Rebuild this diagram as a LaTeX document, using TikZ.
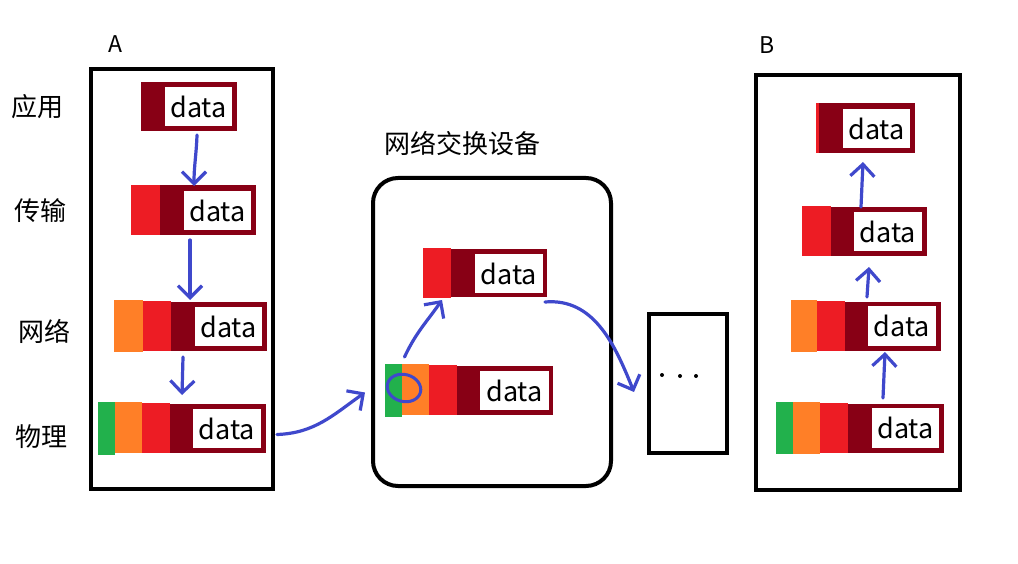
\documentclass[tikz,border=0pt]{standalone}
\usepackage{fontspec}
\setmainfont{Noto Sans CJK SC}
\usetikzlibrary{arrows.meta}
\definecolor{dkred}{RGB}{136,0,21}
\definecolor{pred}{RGB}{237,28,36}
\definecolor{porange}{RGB}{255,127,39}
\definecolor{pgreen}{RGB}{34,177,76}
\definecolor{pblue}{RGB}{63,72,204}
\tikzset{
  blk/.style={rectangle, inner sep=0pt, outer sep=0pt, draw=none},
  body/.style={blk, fill=dkred, minimum width=96pt},
  databox/.style={blk, fill=white, minimum height=39pt, font=\fontsize{27}{30}\selectfont, text=black},
  hred/.style={blk, fill=pred},
  horange/.style={blk, fill=porange},
  hgreen/.style={blk, fill=pgreen},
  frame/.style={rectangle, draw=black, line width=4pt, inner sep=0pt, fill=none},
  lab/.style={inner sep=0pt, font=\fontsize{26}{30}\selectfont},
  hostlab/.style={inner sep=0pt, font=\fontsize{23}{26}\selectfont},
  hand/.style={draw=pblue, line width=3.2pt, line cap=round, line join=round,
    -{Straight Barb[length=12pt,width=24pt,line width=3.2pt]}},
  dotmark/.style={circle, fill=black, inner sep=0pt, minimum size=4pt}
}
\begin{document}
\begin{tikzpicture}[x=1pt,y=-1pt]
\useasboundingbox[fill=white] (0,0) rectangle (1018,564);

% ---------- frames ----------
\node[frame, minimum width=182pt, minimum height=419.5pt] (boxA) at (181.5,279.25) {};
\node[frame, rounded corners=25pt, minimum width=238pt, minimum height=308pt] (sw) at (492,332) {};
\node[frame, minimum width=78pt, minimum height=139pt] (dotsbox) at (688,383.5) {};
\node[frame, minimum width=204pt, minimum height=415pt] (boxB) at (858,282.5) {};

% ---------- labels ----------
\node[hostlab] (labA) at (115.5,44.5) {A};
\node[hostlab] (labB) at (767,45) {B};
\node[lab] (l1) at (37,107) {应用};
\node[lab] (l2) at (40,211) {传输};
\node[lab] (l3) at (45,331) {网络};
\node[lab] (l4) at (42,437) {物理};
\node[lab] (swlab) at (462,143) {网络交换设备};

\node[dotmark] (d1) at (662,375) {};
\node[dotmark] (d2) at (680,376) {};
\node[dotmark] (d3) at (696,376) {};

% ---------- host A packets ----------
\node[body, minimum height=49pt] (a1) at (189,106.5) {};
\node[databox, minimum width=67pt] (a1d) at (198.5,106.5) {data};

\node[hred, minimum width=29pt, minimum height=50pt] (a2r) at (145.5,210) {};
\node[body, minimum height=50pt] (a2) at (208,210) {};
\node[databox, minimum width=67pt] (a2d) at (217.5,210.5) {data};

\node[horange, minimum width=29pt, minimum height=52pt] (a3o) at (128.5,326) {};
\node[hred, minimum width=28pt, minimum height=50pt] (a3r) at (157,326) {};
\node[body, minimum height=49pt] (a3) at (219,326.5) {};
\node[databox, minimum width=67pt] (a3d) at (228.5,326.5) {data};

\node[hgreen, minimum width=17pt, minimum height=53pt] (a4g) at (106.5,428.5) {};
\node[horange, minimum width=27pt, minimum height=51pt] (a4o) at (128.5,427.5) {};
\node[hred, minimum width=28pt, minimum height=50pt] (a4r) at (156,428) {};
\node[body, minimum height=49pt] (a4) at (218,428.5) {};
\node[databox, minimum width=68pt] (a4d) at (227,428.5) {data};

% ---------- switch packets ----------
\node[hred, minimum width=28pt, minimum height=50pt] (s1r) at (437,273) {};
\node[body, minimum height=48pt] (s1) at (499,273) {};
\node[databox, minimum width=68pt] (s1d) at (509,273.5) {data};

\node[hgreen, minimum width=17pt, minimum height=53pt] (s2g) at (393.5,390.5) {};
\node[horange, minimum width=27pt, minimum height=51pt] (s2o) at (415.5,389.5) {};
\node[hred, minimum width=28pt, minimum height=50pt] (s2r) at (443,390) {};
\node[body, minimum height=49pt] (s2) at (505,390.5) {};
\node[databox, minimum width=69pt] (s2d) at (514.5,390.5) {data};

% ---------- host B packets ----------
\node[hred, minimum width=3pt, minimum height=50pt] (b1r) at (817.5,128) {};
\node[body, minimum height=50pt] (b1) at (867,128) {};
\node[databox, minimum width=67pt] (b1d) at (876.5,128.5) {data};

\node[hred, minimum width=29pt, minimum height=50pt] (b2r) at (816.5,231) {};
\node[body, minimum height=49pt] (b2) at (879,231.5) {};
\node[databox, minimum width=68pt] (b2d) at (888,231.5) {data};

\node[horange, minimum width=26pt, minimum height=52pt] (b3o) at (804,326) {};
\node[hred, minimum width=28pt, minimum height=50pt] (b3r) at (831,326) {};
\node[body, minimum height=49pt] (b3) at (893,326.5) {};
\node[databox, minimum width=68pt, minimum height=40pt] (b3d) at (902,326) {data};

\node[hgreen, minimum width=17pt, minimum height=52pt] (b4g) at (784.5,428) {};
\node[horange, minimum width=27pt, minimum height=52pt] (b4o) at (806.5,428) {};
\node[hred, minimum width=28pt, minimum height=50pt] (b4r) at (834,428) {};
\node[body, minimum height=49pt] (b4) at (896,428.5) {};
\node[databox, minimum width=67pt, minimum height=40pt] (b4d) at (905.5,428) {data};

% ---------- hand-drawn arrows ----------
\draw[hand] ([xshift=8pt,yshift=-4pt]a1.south) to[out=-92,in=90] ([xshift=-14pt,yshift=-1pt]a2.north);
\draw[hand] ([xshift=-18pt,yshift=-5pt]a2.south) -- ([xshift=-29pt,yshift=2pt]a3.north);
\draw[hand] ([xshift=-36pt,yshift=-6pt]a3.south) -- ([xshift=-36pt,yshift=9pt]a4.north);
\draw[hand] ([xshift=11pt,yshift=-6pt]a4.east) to[out=2,in=215] ([xshift=-20pt,yshift=-2pt]s2g.west);
\draw[hand] ([xshift=-11pt,yshift=7pt]s2o.north) to[out=65,in=235] ([xshift=5pt,yshift=-2pt]s1r.south);
\draw[hand] ([xshift=-2pt,yshift=-5pt]s1.south east) to[out=5,in=112] ([xshift=-13pt,yshift=-8.5pt]dotsbox.west);
\draw[hand] ([xshift=-13pt,yshift=6pt]b4.north) -- ([xshift=-8pt,yshift=-1pt]b3.south);
\draw[hand] ([xshift=-26pt,yshift=5pt]b3.north) -- ([xshift=-10pt,yshift=-11pt]b2.south);
\draw[hand] ([xshift=-18pt,yshift=0pt]b2.north) -- ([xshift=-4pt,yshift=-9pt]b1.south);

% circled header in the switch
\draw[pblue, line width=3pt, rotate around={-15:(404,388)}] (404,388) ellipse [x radius=17pt, y radius=13.5pt];
\end{tikzpicture}
\end{document}
